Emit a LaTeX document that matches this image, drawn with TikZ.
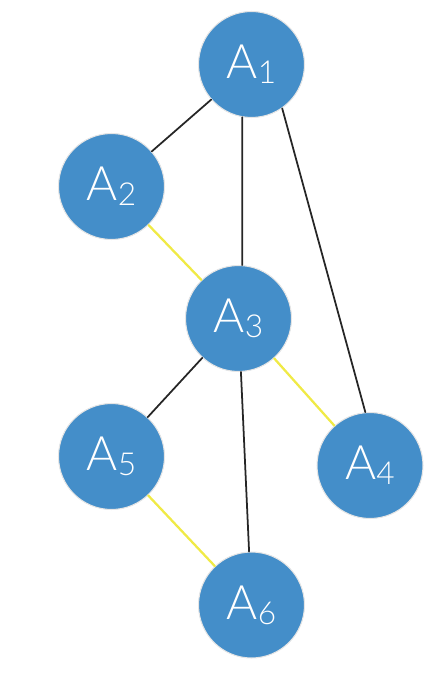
\documentclass[tikz,border=0pt]{standalone}
\usepackage{fontspec}
\setsansfont{Lato}[UprightFont=* Light]
\definecolor{nodeblue}{RGB}{68,142,201}
\definecolor{edgeyellow}{RGB}{240,234,70}
\newcommand{\lbl}[1]{A\raisebox{-2.8pt}{\fontsize{18}{18}\selectfont #1}}
\tikzset{
	vtx/.style={circle, fill=nodeblue, draw=black!10, line width=0.6pt, minimum size=2.12cm, inner sep=0pt, text=white, font=\sffamily\fontsize{27}{27}\selectfont},
	blk/.style={line width=1pt, black!85},
	ylw/.style={line width=1.3pt, edgeyellow}
}
\begin{document}
\begin{tikzpicture}[x=0.02cm, y=-0.02cm, line join=round, line cap=round]
			\useasboundingbox (0,0) rectangle (439,675);
			
			% vertices
			\node[vtx] (A1) at (251.5, 64.5) {\lbl{1}};
			\node[vtx] (A2) at (111.5, 186.5) {\lbl{2}};
			\node[vtx] (A3) at (238.5, 318.5) {\lbl{3}};
			\node[vtx] (A4) at (370, 465.5) {\lbl{4}};
			\node[vtx] (A5) at (111.5, 456.5) {\lbl{5}};
			\node[vtx] (A6) at (251.5, 605) {\lbl{6}};
			
			\draw[blk] (A1) -- (A2) (A1.260) -- (A3.86) (A1.-55) -- (A4.95)
			(A3) -- (A5) (A3) -- (A6);
			\draw[ylw] (A2) -- (A3) (A3) -- (A4) (A5) -- (A6);
	\end{tikzpicture}
\end{document}
